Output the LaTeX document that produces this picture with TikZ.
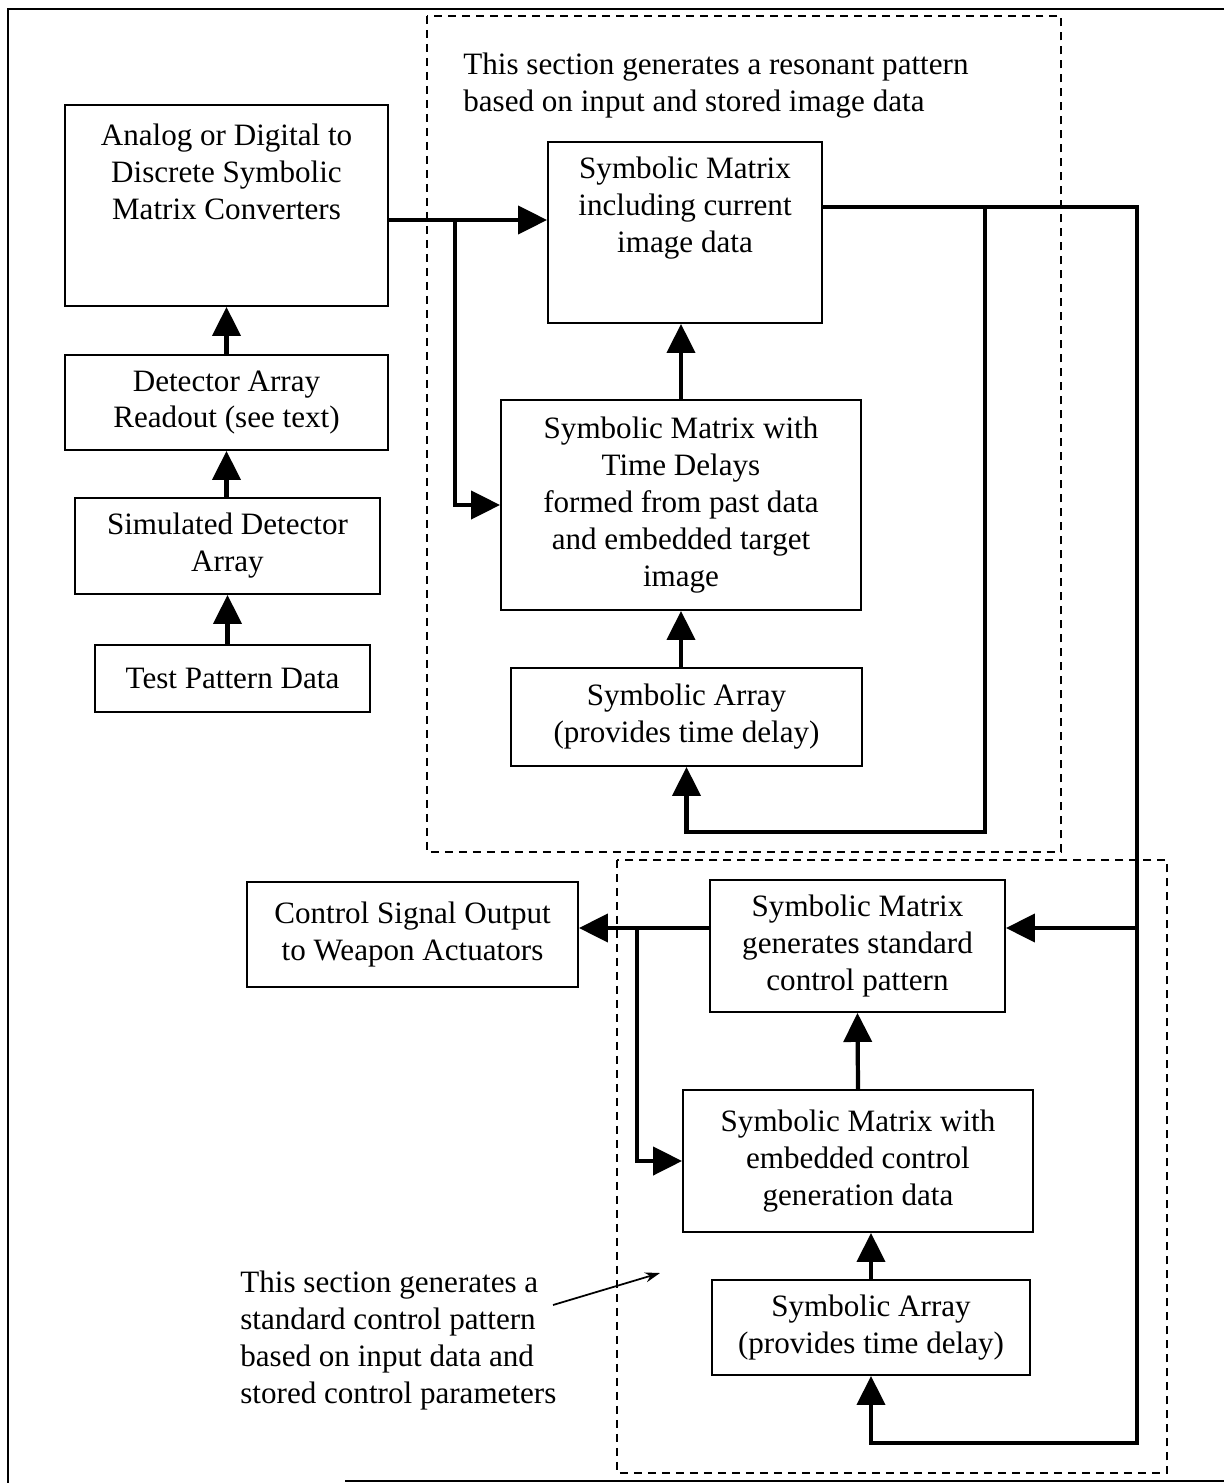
\documentclass[tikz,border=0pt]{standalone}
\usepackage{fontspec}
\setmainfont{Liberation Serif}
\usetikzlibrary{arrows.meta,positioning}

\begin{document}
\begin{tikzpicture}[x=0.02cm,y=-0.02cm,font=\fontsize{17.7}{21}\selectfont,
  box/.style={rectangle,draw,line width=1.1pt,align=center,inner sep=2pt},
  txt/.style={align=center,inner sep=0pt},
  note/.style={align=left,inner sep=0pt,anchor=north west},
  sect/.style={draw,line width=0.8pt,dash pattern=on 0.16cm off 0.12cm},
  ln/.style={line width=2.4pt},
  thk/.style={line width=2.4pt,-{Triangle[length=0.58cm,width=0.56cm]}}]
\useasboundingbox (0,0) rectangle (1224,1483);
\draw[line width=1.1pt] (1224,9) -- (8,9) -- (8,1483);
\draw[line width=1.1pt] (345,1481) -- (1224,1481);

\draw[sect] (427,16) rectangle (1061,852);
\draw[sect] (617,860) rectangle (1167,1473);

\node[note] at (463,53) (note1) {This section generates a resonant pattern\\based on input and stored image data};
\node[note] at (240,1271) (note2) {This section generates a\\standard control pattern\\based on input data and\\stored control parameters};

\node[box,minimum width=6.46cm,minimum height=4.02cm] at (226.5,205.5) (conv) {};
\node[txt] at (226.5,172) (convtxt) {Analog or Digital to\\Discrete Symbolic\\Matrix Converters};
\node[box,minimum width=6.46cm,minimum height=1.9cm] at (226.5,402.5) (rd) {Detector Array\\Readout (see text)};
\node[box,minimum width=6.1cm,minimum height=1.92cm] at (227.5,546) (sim) {Simulated Detector\\Array};
\node[box,minimum width=5.5cm,minimum height=1.34cm] at (232.5,678.5) (tp) {Test Pattern Data};

\node[box,minimum width=5.48cm,minimum height=3.62cm] at (685,232.5) (sm1) {};
\node[txt] at (685,208) (sm1txt) {Symbolic Matrix\\including current\\image data};
\node[box,minimum width=7.2cm,minimum height=4.2cm] at (681,505) (sm2) {Symbolic Matrix with\\Time Delays\\formed from past data\\and embedded target\\image};
\node[box,minimum width=7.02cm,minimum height=1.96cm] at (686.5,717) (ar1) {Symbolic Array\\(provides time delay)};

\node[box,minimum width=6.62cm,minimum height=2.1cm] at (412.5,934.5) (ctl) {Control Signal Output\\to Weapon Actuators};
\node[box,minimum width=5.9cm,minimum height=2.64cm] at (857.5,946) (sm3) {Symbolic Matrix\\generates standard\\control pattern};
\node[box,minimum width=7cm,minimum height=2.84cm] at (858,1161) (sm4) {Symbolic Matrix with\\embedded control\\generation data};
\node[box,minimum width=6.36cm,minimum height=1.9cm] at (871,1327.5) (ar2) {Symbolic Array\\(provides time delay)};

\coordinate (j1) at (455,220);
\coordinate (j2) at (985,207);
\coordinate (j3) at (1137,207);
\coordinate (j4) at (1137,928);
\coordinate (j5) at (1137,1443);
\coordinate (j6) at (985,832);
\coordinate (j7) at (637,928);
\coordinate (n2a) at (553,1305);
\coordinate (n2b) at (660,1273);

\draw[thk] (rd.north -| conv) -- (conv.south);
\draw[thk] (sim.north -| conv) -- (rd.south -| conv);
\draw[thk] (tp.north -| sim) -- (sim.south);
\draw[thk] (conv.east |- j1) -- (sm1.west |- j1);
\draw[thk] (j1) |- (sm2.west);
\draw[thk] (sm2.north) -- (sm2.north |- sm1.south);
\draw[thk] (ar1.north -| sm2) -- (sm2.south);
\draw[thk] (sm1.east |- j2) -- (j3) -- (j5) -| (ar2.south);
\draw[thk] (j2) -- (j6) -| (ar1.south);
\draw[thk] (j4) -- (sm3.east |- j4);
\draw[thk] (sm3.west |- j7) -- (ctl.east |- j7);
\draw[thk] (j7) |- (sm4.west);
\draw[thk] (sm4.north) -- (sm3.south);
\draw[thk] (ar2.north) -- (ar2.north |- sm4.south);
\draw[line width=1pt,-{Stealth[length=0.3cm,width=0.2cm]}] (n2a) -- (n2b);
\end{tikzpicture}
\end{document}
